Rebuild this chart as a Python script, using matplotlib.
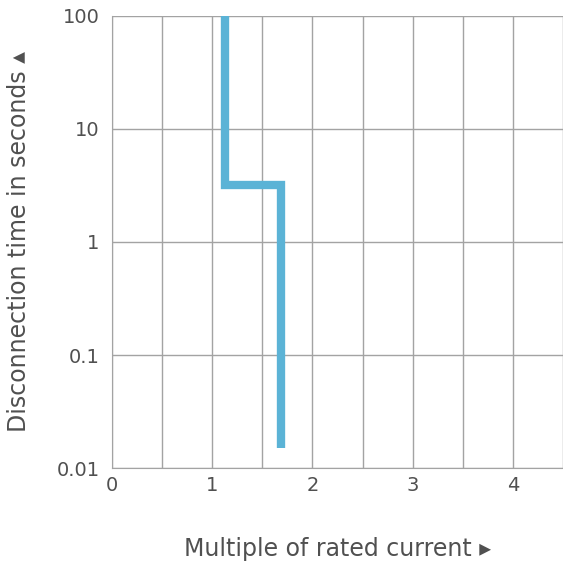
import numpy as np
import matplotlib.pyplot as plt

# tripping characteristic (multiple of rated current vs. disconnection time)
current = [1.125, 1.125, 1.69, 1.69]
time_s = [100, 3.2, 3.2, 0.015]

x_ticks = [0, 1, 2, 3, 4]
y_ticks = [0.01, 0.1, 1, 10, 100]
y_labels = ["0.01", "0.1", "1", "10", "100"]

grid_col = "#a3a3a3"
text_col = "#505050"

fig = plt.figure(figsize=(5.63, 5.66), dpi=100)
ax = fig.add_axes([0.199, 0.173, 0.801, 0.799])

ax.plot(current, time_s, color="#5bb3d6", lw=6, solid_capstyle="butt",
        solid_joinstyle="miter", zorder=3)

ax.set_yscale("log")
ax.set_xlim(0, 4.5)
ax.set_ylim(0.01, 100)
ax.set_xticks(x_ticks)
ax.set_xticks(np.arange(0.5, 4.6, 0.5), minor=True)
ax.set_yticks(y_ticks)
ax.set_yticklabels(y_labels)
ax.yaxis.set_minor_locator(plt.NullLocator())

ax.grid(True, which="both", color=grid_col, lw=1)
ax.set_axisbelow(True)
for s in ["top", "right"]:
    ax.spines[s].set_visible(False)
for s in ["left", "bottom"]:
    ax.spines[s].set_color(grid_col)
ax.tick_params(which="both", length=0, colors=text_col, labelsize=14)
ax.tick_params(axis="x", pad=6)
ax.tick_params(axis="y", pad=9)

ax.set_xlabel("Multiple of rated current \u25b8", color=text_col, fontsize=17, labelpad=30)
ax.set_ylabel("Disconnection time in seconds \u25b4", color=text_col, fontsize=17, labelpad=18)

fig.savefig("out.png", dpi=100)
